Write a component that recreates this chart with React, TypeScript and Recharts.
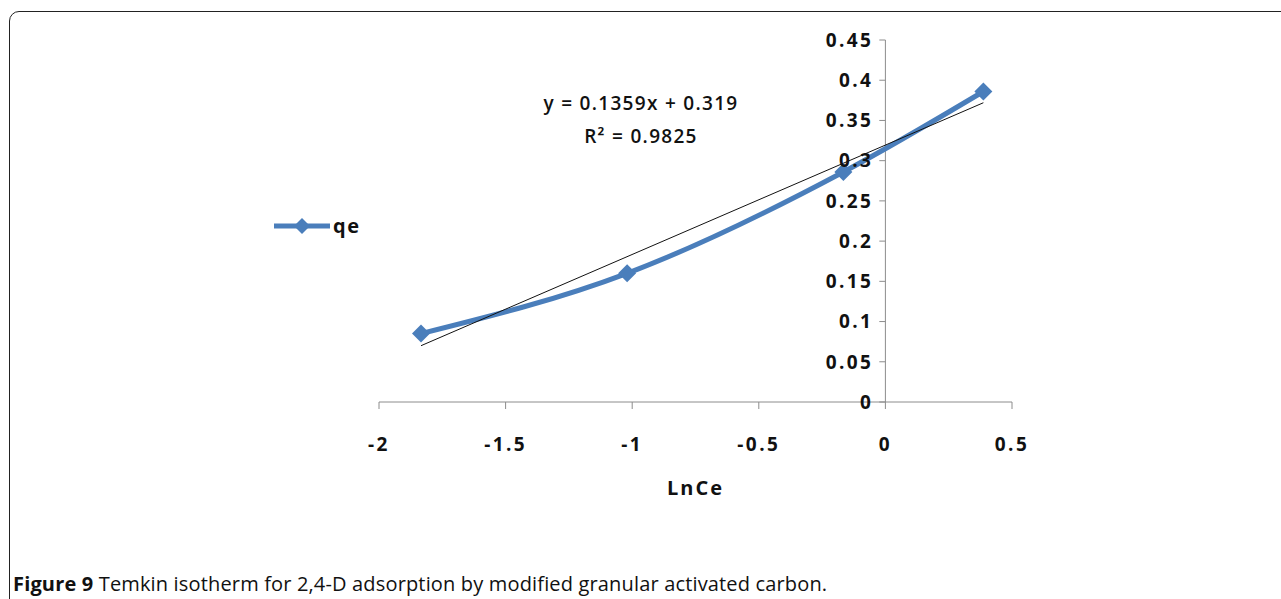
import {
  ComposedChart,
  Line,
  XAxis,
  YAxis,
  ReferenceLine,
} from 'recharts';

// LnCe vs qe
const lnCe = [-1.834, -1.02, -0.166, 0.387];
const qe = [0.085, 0.16, 0.286, 0.386];

// trendline end points (y = 0.1359x + 0.319)
const trendX = [-1.834, 0.387];
const trendY = [0.07, 0.372];

const xTicks = [-2, -1.5, -1, -0.5, 0, 0.5];
const yTicks = [0, 0.05, 0.1, 0.15, 0.2, 0.25, 0.3, 0.35, 0.4, 0.45];

const seriesName = 'qe';
const equation = 'y = 0.1359x + 0.319';
const rSquared = 'R² = 0.9825';
const caption = 'Temkin isotherm for 2,4-D adsorption by modified granular activated carbon.';

const BLUE = '#4A7EBB';
const AXIS = '#8c8c8c';
const FONT = '"Open Sans", sans-serif';

const qeData = lnCe.map((x, i) => ({ x, y: qe[i] }));
const trendData = trendX.map((x, i) => ({ x, y: trendY[i] }));

const Diamond = (props: any) => {
  const { cx, cy, index } = props;
  if (cx == null || cy == null) return null;
  const r = 9;
  return (
    <path
      key={`d-${index}`}
      d={`M${cx},${cy - r}L${cx + r},${cy}L${cx},${cy + r}L${cx - r},${cy}Z`}
      fill={BLUE}
    />
  );
};

export default function App() {
  const tickStyle = { fontFamily: FONT, fontWeight: 700, fontSize: 19, fill: '#111', letterSpacing: 2.4 };

  return (
    <div style={{ position: 'fixed', left: 0, top: 0, width: 1281, height: 599, background: '#fff', overflow: 'hidden' }}>
      <div
        style={{
          position: 'absolute',
          left: 9,
          top: 11,
          width: 1300,
          height: 620,
          border: '1.5px solid #222',
          borderRadius: 10,
          boxSizing: 'border-box',
        }}
      />
      <ComposedChart width={1281} height={599} margin={{ top: 40, right: 269, left: 379, bottom: 97 }}>
        <XAxis
          type="number"
          dataKey="x"
          domain={[-2, 0.5]}
          ticks={xTicks}
          allowDataOverflow
          tickFormatter={(v: number) => String(v)}
          height={100}
          tickSize={7}
          tickMargin={29}
          stroke={AXIS}
          tick={tickStyle}
          label={{
            value: 'LnCe',
            position: 'insideTop',
            offset: 79,
            style: { fontFamily: FONT, fontWeight: 700, fontSize: 20, fill: '#111', letterSpacing: 2 },
          }}
        />
        <YAxis type="number" dataKey="y" hide domain={[0, 0.45]} allowDataOverflow />
        <ReferenceLine
          segment={[{ x: 0, y: 0 }, { x: 0, y: 0.45 }]}
          stroke={AXIS}
          strokeWidth={1}
          ifOverflow="visible"
        />
        {yTicks.map((v) => (
          <ReferenceLine
            key={v}
            segment={[{ x: -0.024, y: v }, { x: 0, y: v }]}
            stroke={AXIS}
            ifOverflow="visible"
            label={{ value: String(v), position: 'left', offset: 6, style: tickStyle }}
          />
        ))}
        <Line
          data={qeData}
          dataKey="y"
          name={seriesName}
          type="monotone"
          stroke={BLUE}
          strokeWidth={5}
          dot={<Diamond />}
          activeDot={false}
          isAnimationActive={false}
        />
        <Line
          data={trendData}
          dataKey="y"
          name="trend"
          type="linear"
          stroke="#111"
          strokeWidth={1}
          dot={false}
          activeDot={false}
          isAnimationActive={false}
        />
      </ComposedChart>
      {/* legend */}
      <div
        style={{
          position: 'absolute',
          left: 273,
          top: 212,
          display: 'flex',
          alignItems: 'center',
          fontFamily: FONT,
          fontWeight: 700,
          fontSize: 20,
          color: '#111',
        }}
      >
        <svg width={58} height={24}>
          <line x1={1} y1={12} x2={57} y2={12} stroke={BLUE} strokeWidth={5} />
          <path d="M29,4L37,12L29,20L21,12Z" fill={BLUE} />
        </svg>
        <span style={{ marginLeft: 2, letterSpacing: 1.5 }}>{seriesName}</span>
      </div>
      <div
        style={{
          position: 'absolute',
          left: 441,
          width: 400,
          top: 87,
          textAlign: 'center',
          fontFamily: FONT,
          fontWeight: 600,
          fontSize: 19,
          lineHeight: '33px',
          color: '#111',
          letterSpacing: 1.3,
        }}
      >
        <div>{equation}</div>
        <div>{rSquared}</div>
      </div>
      <div
        style={{
          position: 'absolute',
          left: 13,
          top: 570,
          fontFamily: FONT,
          fontSize: 20,
          color: '#111',
          whiteSpace: 'nowrap',
          letterSpacing: 0.16,
        }}
      >
        <b>Figure 9</b> {caption}
      </div>
    </div>
  );
}
